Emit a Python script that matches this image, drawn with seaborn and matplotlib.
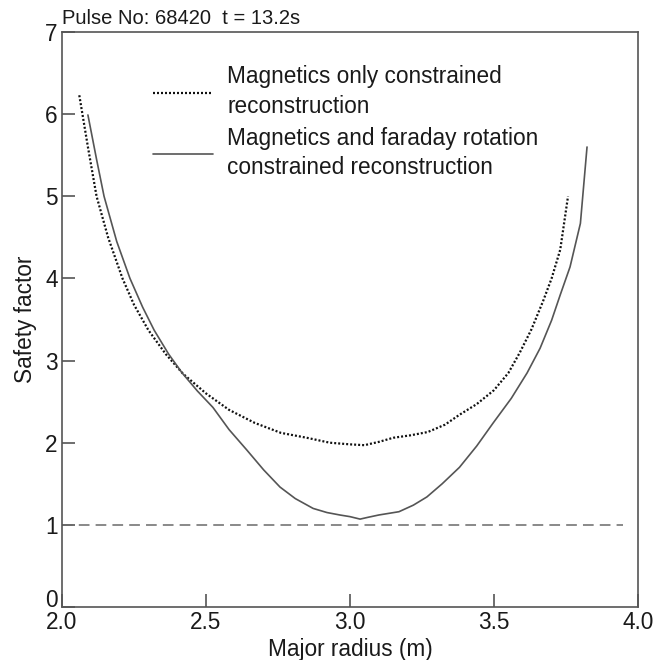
import matplotlib
matplotlib.use("Agg")
import matplotlib.pyplot as plt
import seaborn as sns
import pandas as pd

# Magnetics only constrained reconstruction (dotted)
mag_x = [2.06, 2.09, 2.12, 2.16, 2.21, 2.25, 2.30, 2.36, 2.42, 2.50, 2.58, 2.67, 2.76,
         2.85, 2.93, 3.00, 3.05, 3.10, 3.15, 3.21, 3.27, 3.33, 3.38, 3.44, 3.50, 3.55,
         3.59, 3.63, 3.67, 3.70, 3.73, 3.757]
mag_q = [6.23, 5.60, 5.00, 4.50, 4.00, 3.68, 3.37, 3.08, 2.84, 2.60, 2.40, 2.24, 2.12,
         2.06, 2.00, 1.98, 1.97, 2.01, 2.06, 2.09, 2.13, 2.22, 2.34, 2.47, 2.64, 2.85,
         3.10, 3.38, 3.72, 4.00, 4.35, 5.00]

# Magnetics and faraday rotation constrained reconstruction (solid)
far_x = [2.09, 2.12, 2.146, 2.19, 2.236, 2.28, 2.32, 2.37, 2.417, 2.47, 2.524, 2.58,
         2.642, 2.70, 2.757, 2.81, 2.872, 2.92, 2.965, 3.00, 3.035, 3.06, 3.10, 3.17,
         3.22, 3.267, 3.32, 3.38, 3.44, 3.497, 3.56, 3.615, 3.66, 3.70, 3.73, 3.764,
         3.80, 3.823]
far_q = [5.99, 5.45, 5.00, 4.45, 4.00, 3.65, 3.37, 3.08, 2.85, 2.63, 2.43, 2.16,
         1.91, 1.67, 1.46, 1.32, 1.20, 1.15, 1.12, 1.10, 1.07, 1.09, 1.12, 1.16,
         1.24, 1.34, 1.50, 1.70, 1.96, 2.24, 2.54, 2.85, 3.15, 3.49, 3.80, 4.14,
         4.67, 5.60]

ref_q = 1.0
x_ticks = [2.0, 2.5, 3.0, 3.5, 4.0]
x_tick_labels = ["2.0", "2.5", "3.0", "3.5", "4.0"]
y_ticks = [0, 1, 2, 3, 4, 5, 6, 7]
labels = ["Magnetics only constrained\nreconstruction",
          "Magnetics and faraday rotation\nconstrained reconstruction"]
title = "Pulse No: 68420  t = 13.2s"

sns.set_style("ticks")
plt.rcParams["font.family"] = ["Liberation Sans", "DejaVu Sans"]

FS = 16.3
TXT = "#1a1a1a"

fig = plt.figure(figsize=(6.71, 6.60), dpi=100)
ax = fig.add_axes([62/671, 1 - 607/660, 576/671, 575/660])

df_mag = pd.DataFrame({"x": mag_x, "q": mag_q})
df_far = pd.DataFrame({"x": far_x, "q": far_q})

sns.lineplot(data=df_mag, x="x", y="q", ax=ax, color="#111111", lw=1.6,
             sort=False, label=labels[0])
ax.lines[-1].set_dashes((0.9, 0.9))
sns.lineplot(data=df_far, x="x", y="q", ax=ax, color="#555555", lw=1.2,
             sort=False, label=labels[1])

ax.axhline(ref_q, xmin=0, xmax=(623-62)/576, color="#6a6a6a", lw=1.1,
           dashes=(7, 4))

ax.set_xlim(2.0, 4.0)
ax.set_ylim(0, 7)
ax.set_xticks(x_ticks)
ax.set_xticklabels(x_tick_labels)
ax.set_yticks(y_ticks)

for s in ax.spines.values():
    s.set_visible(True)
    s.set_color("#555555")
    s.set_linewidth(1.2)

ax.tick_params(axis="both", direction="in", length=9.5, width=1.2,
               color="#555555", labelsize=FS, labelcolor=TXT)
ax.tick_params(axis="y", pad=3)
ax.tick_params(axis="x", pad=3)
ax.get_yticklabels()[0].set_va("baseline")

ax.set_xlabel("Major radius (m)", fontsize=FS, color=TXT, labelpad=3)
ax.set_ylabel("Safety factor", fontsize=FS, color=TXT, labelpad=6)
ax.set_title(title, loc="left", fontsize=14.5, color=TXT, pad=6)

leg = ax.legend(loc="upper left", bbox_to_anchor=(0.158, 0.942), frameon=False,
                fontsize=FS, handlelength=2.65, handletextpad=0.62,
                labelspacing=0.4, borderpad=0, borderaxespad=0)
for t in leg.get_texts():
    t.set_color(TXT)
    t.set_linespacing(1.35)

fig.savefig("out.png", dpi=100)
